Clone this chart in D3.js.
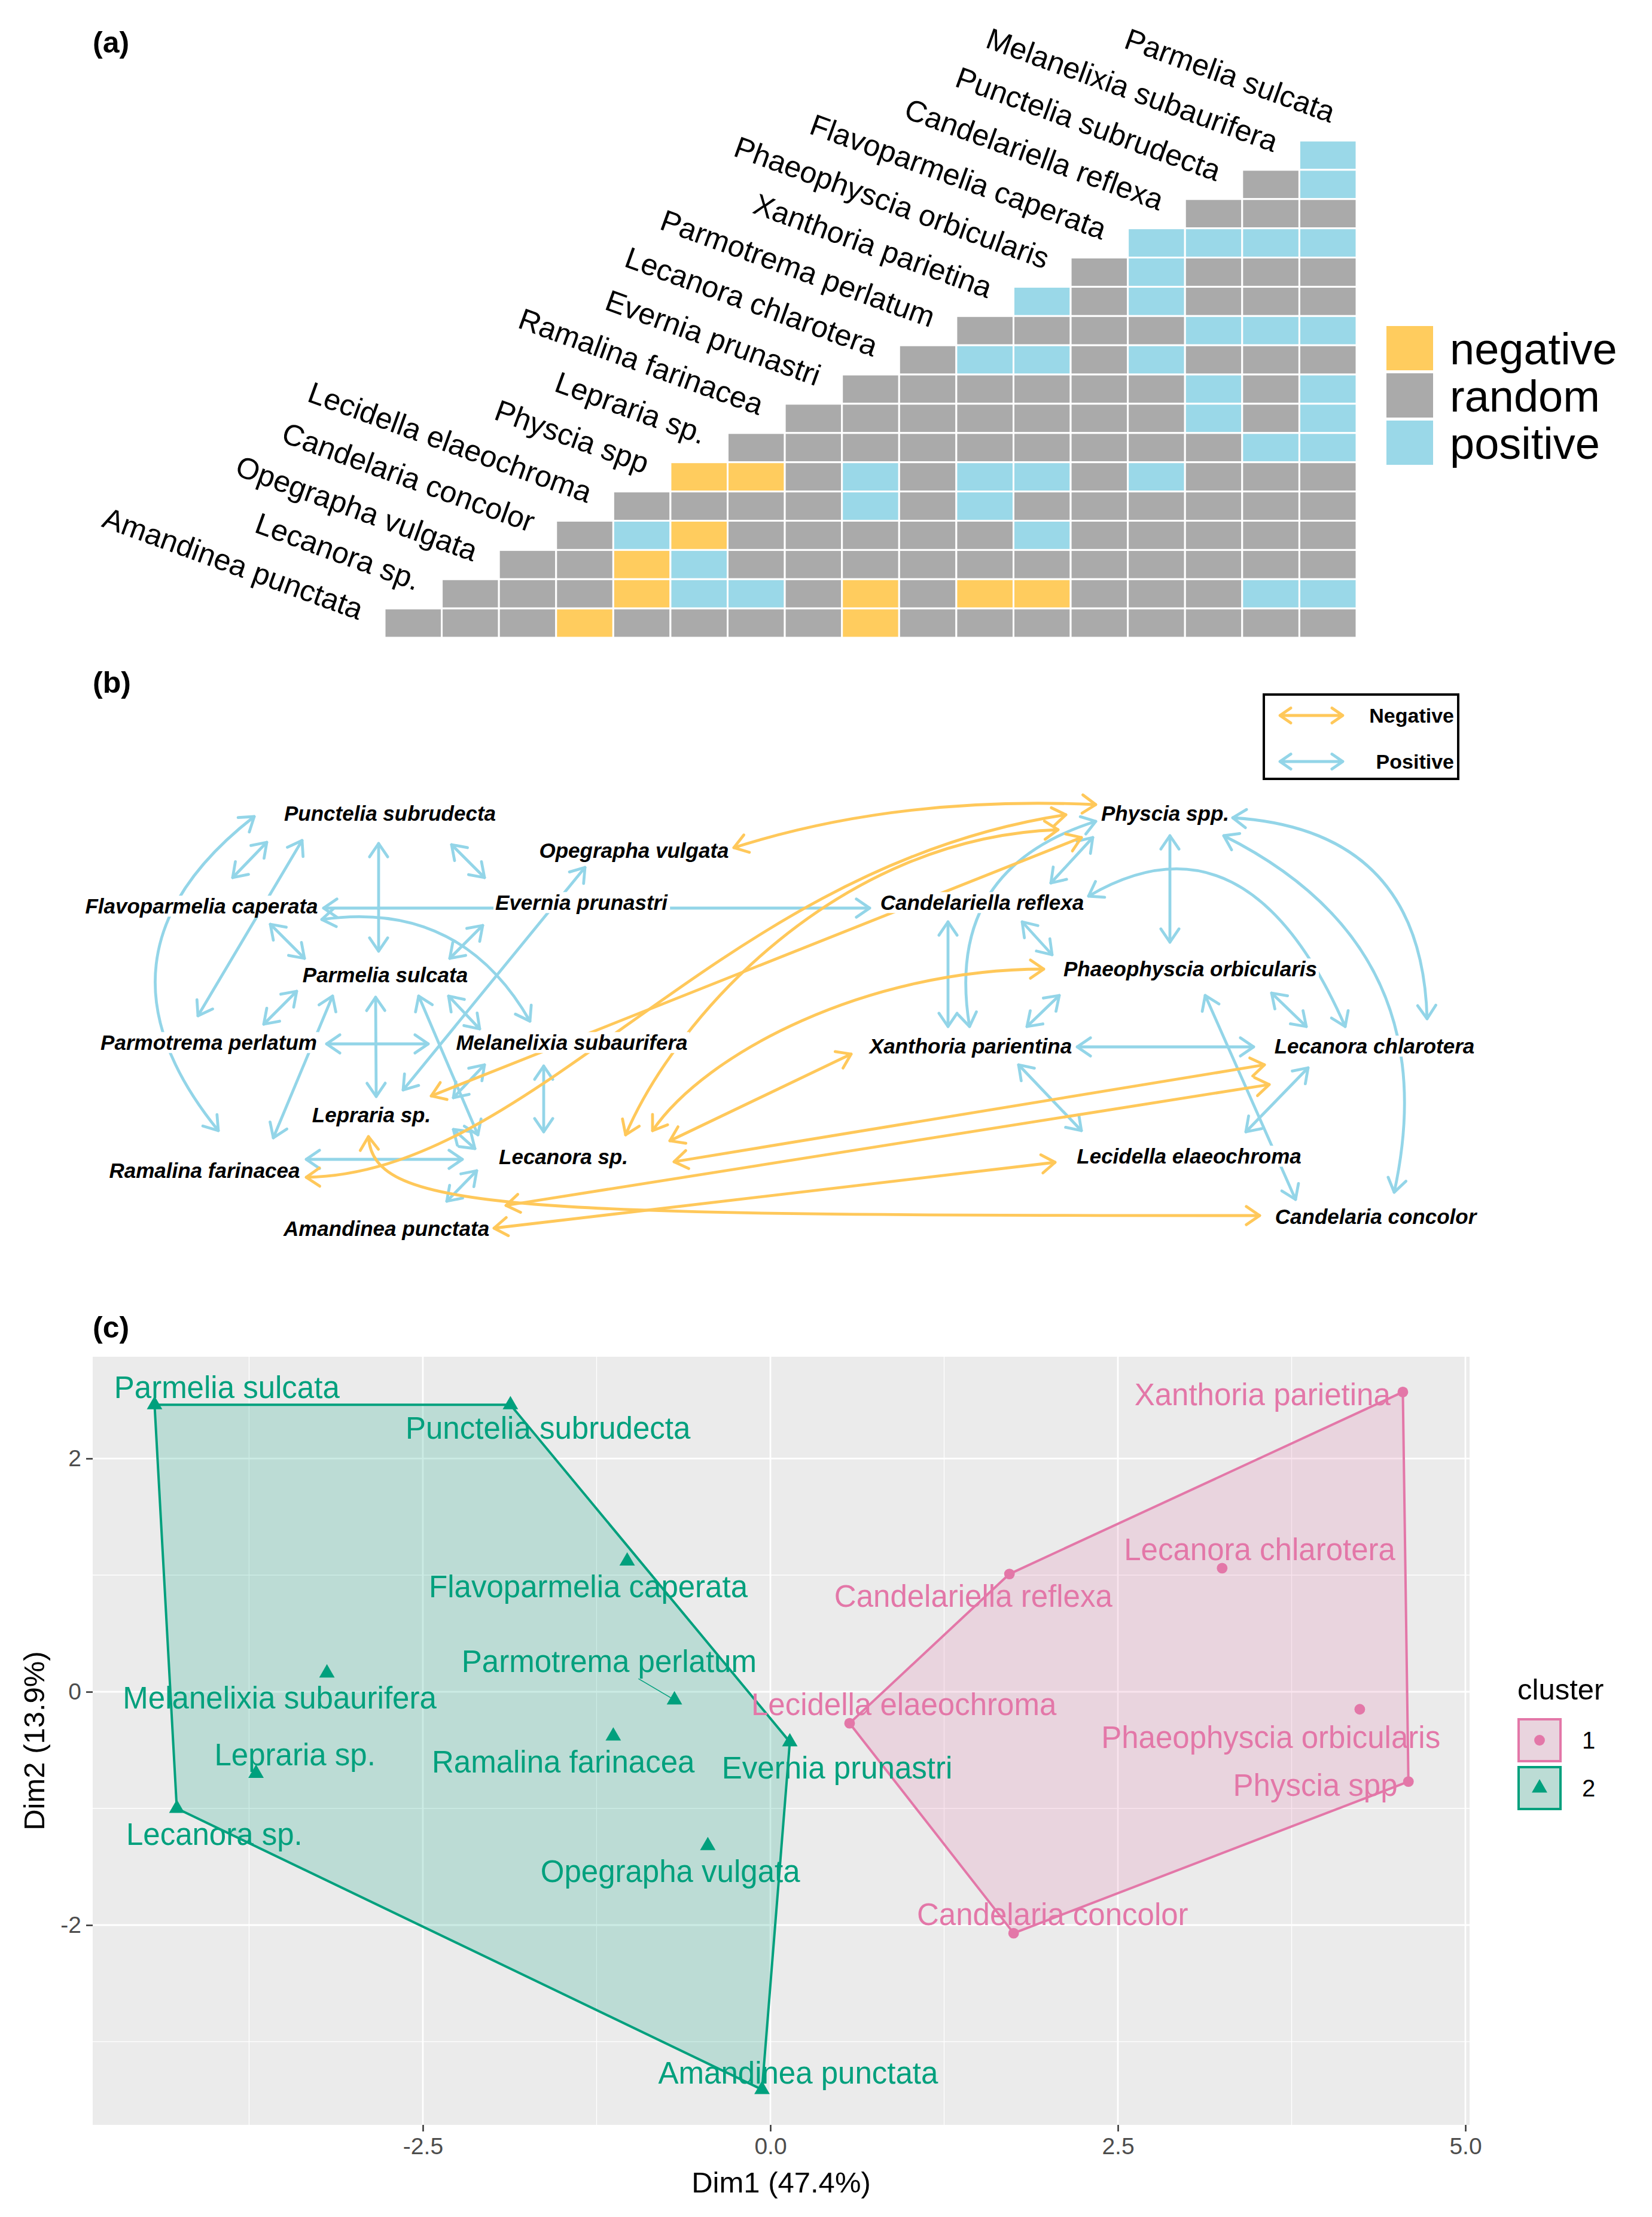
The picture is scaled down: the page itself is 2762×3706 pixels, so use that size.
<!DOCTYPE html>
<html>
<head>
<meta charset="utf-8">
<script src="https://cdn.jsdelivr.net/npm/d3@7"></script>
<style>
  body { margin: 0; background: #fff; }
  svg { display: block; font-family: "Liberation Sans", Arial, sans-serif; }
</style>
</head>
<body>
<svg id="fig" width="2762" height="3706"></svg>
<script>
// ---------- (a) co-occurrence matrix ----------
// species in the order they sit on the diagonal, top right to bottom left
const species = ["Parmelia sulcata", "Melanelixia subaurifera", "Punctelia subrudecta",
  "Candelariella reflexa", "Flavoparmelia caperata", "Phaeophyscia orbicularis",
  "Xanthoria parietina", "Parmotrema perlatum", "Lecanora chlarotera", "Evernia prunastri",
  "Ramalina farinacea", "Lepraria sp.", "Physcia spp", "Lecidella elaeochroma",
  "Candelaria concolor", "Opegrapha vulgata", "Lecanora sp.", "Amandinea punctata"];

// one string per row, left to right (n = negative, r = random, p = positive)
const pairRows = ["p", "rp", "rrr", "pppp", "rprrr", "prprrr", "rrrrppp", "rpprprrr",
  "rrrrrrprp", "rrrrrrrprp", "rrrrrrrrrpp", "nnrprpprprrr", "rrrrprprrrrrr",
  "rpnrrrrrprrrrr", "rrnprrrrrrrrrrr", "rrrnpprnrnnrrrpp", "rrrnrrrrnrrrrrrrr"];

const pairTypes = ["negative", "random", "positive"];
const pairColors = ["#FFCC5E", "#AAAAAA", "#9AD8E8"];

// ---------- (b) network ----------
// label centre of each species in the drawing
const nodes = [
  ["Punctelia subrudecta", 522, 210], ["Opegrapha vulgata", 930, 272],
  ["Flavoparmelia caperata", 207, 365], ["Evernia prunastri", 842, 359],
  ["Candelariella reflexa", 1512, 359], ["Physcia spp.", 1818, 210],
  ["Parmelia sulcata", 514, 480], ["Phaeophyscia orbicularis", 1860, 470],
  ["Parmotrema perlatum", 219, 593], ["Melanelixia subaurifera", 826, 593],
  ["Xanthoria parientina", 1493, 599], ["Lecanora chlarotera", 2168, 599],
  ["Lepraria sp.", 491, 714], ["Lecanora sp.", 812, 784],
  ["Ramalina farinacea", 212, 807], ["Lecidella elaeochroma", 1858, 783],
  ["Amandinea punctata", 516, 904], ["Candelaria concolor", 2170, 884]
];

// [from, to, port offset at from (dx, dy), port offset at to (dx, dy), bend]
// bend: none = straight, number = arc, [arc, shift], or two [along, across] cubic handles
const positiveLinks = [
  ["Punctelia subrudecta", "Ramalina farinacea", -227, 5, 23, -67, 0.51],
  ["Flavoparmelia caperata", "Punctelia subrudecta", 52, -48, -206, 48],
  ["Punctelia subrudecta", "Parmotrema perlatum", -147, 45, -18, -45],
  ["Punctelia subrudecta", "Parmelia sulcata", -19, 50, -11, -40],
  ["Punctelia subrudecta", "Evernia prunastri", 103, 52, -162, -42],
  ["Flavoparmelia caperata", "Candelariella reflexa", 204, 3, -188, 9],
  ["Flavoparmelia caperata", "Melanelixia subaurifera", 201, 22, -70, -36, -0.34],
  ["Flavoparmelia caperata", "Parmelia sulcata", 115, 30, -135, -28],
  ["Evernia prunastri", "Parmelia sulcata", -165, 38, 108, -28],
  ["Opegrapha vulgata", "Lepraria sp.", -82, 28, 53, -42],
  ["Parmelia sulcata", "Parmotrema perlatum", -148, 27, 92, -31],
  ["Parmelia sulcata", "Ramalina farinacea", -88, 35, 115, -55],
  ["Parmelia sulcata", "Lepraria sp.", -16, 37, 8, -31],
  ["Parmelia sulcata", "Lecanora sp.", 56, 35, -143, -37],
  ["Parmelia sulcata", "Melanelixia subaurifera", 106, 35, -154, -23],
  ["Parmotrema perlatum", "Melanelixia subaurifera", 197, 2, -240, 2],
  ["Melanelixia subaurifera", "Lepraria sp.", -146, 37, 137, -29],
  ["Lepraria sp.", "Lecanora sp.", 137, 24, -148, -14],
  ["Ramalina farinacea", "Lecanora sp.", 170, -19, -169, 4],
  ["Lecanora sp.", "Amandinea punctata", -145, 23, 101, -46],
  ["Melanelixia subaurifera", "Lecanora sp.", -47, 39, -33, -42],
  ["Candelariella reflexa", "Physcia spp.", 115, -33, -121, 40],
  ["Xanthoria parientina", "Physcia spp.", -2, -33, -116, 13, -0.434],
  ["Candelariella reflexa", "Xanthoria parientina", -57, 32, -38, -33],
  ["Candelariella reflexa", "Phaeophyscia orbicularis", 67, 32, -231, -24],
  ["Physcia spp.", "Phaeophyscia orbicularis", 8, 37, -34, -45],
  ["Candelariella reflexa", "Lecanora chlarotera", 178, -11, -49, -33, [-0.537, -0.155]],
  ["Physcia spp.", "Candelaria concolor", 98, 37, 31, -41, -0.389],
  ["Physcia spp.", "Lecanora chlarotera", 113, 7, 88, -46, -0.457],
  ["Phaeophyscia orbicularis", "Xanthoria parientina", -219, 44, 94, -33],
  ["Xanthoria parientina", "Lecanora chlarotera", 178, 1, -202, 1],
  ["Phaeophyscia orbicularis", "Lecanora chlarotera", 136, 40, -114, -33],
  ["Phaeophyscia orbicularis", "Candelaria concolor", 25, 44, -134, -29],
  ["Xanthoria parientina", "Lecidella elaeochroma", 80, 31, -180, -43],
  ["Lecanora chlarotera", "Lecidella elaeochroma", -111, 36, 95, -41]
];

const negativeLinks = [
  ["Opegrapha vulgata", "Physcia spp.", 167, -5, -116, -15, [-0.089, -0.038]],
  ["Lepraria sp.", "Physcia spp.", 100, -32, -140, 40],
  ["Ramalina farinacea", "Physcia spp.", 170, 11, -166, 2, [[0.25, 0.114], [0.60, -0.122]]],
  ["Lecanora sp.", "Physcia spp.", 104, -37, -179, 27, [[0.206, -0.127], [0.651, -0.228]]],
  ["Lecanora sp.", "Phaeophyscia orbicularis", 149, -44, -245, 0, [[0.186, -0.122], [0.615, -0.159]]],
  ["Lecanora sp.", "Xanthoria parientina", 178, -27, -200, 13],
  ["Lecanora sp.", "Lecanora chlarotera", 185, 8, -184, 31],
  ["Amandinea punctata", "Lecanora chlarotera", 200, -39, -176, 64],
  ["Amandinea punctata", "Lecidella elaeochroma", 180, -1, -224, 10],
  ["Lepraria sp.", "Candelaria concolor", -5, 36, -194, -2, [[0.013, 0.083], [0.164, 0.074]]]
];

const linkColors = { Negative: "#FFC85A", Positive: "#93D5E8" };

// ---------- (c) PCA with k-means clusters ----------
const pcaNames = ["Parmelia sulcata", "Punctelia subrudecta", "Flavoparmelia caperata",
  "Melanelixia subaurifera", "Parmotrema perlatum", "Ramalina farinacea", "Evernia prunastri",
  "Lepraria sp.", "Lecanora sp.", "Opegrapha vulgata", "Amandinea punctata",
  "Xanthoria parietina", "Lecanora chlarotera", "Candelariella reflexa",
  "Lecidella elaeochroma", "Phaeophyscia orbicularis", "Physcia spp", "Candelaria concolor"];
const dim1 = [-4.43, -1.87, -1.03, -3.19, -0.69, -1.13, 0.14, -3.70, -4.27, -0.45, -0.06,
  4.55, 3.25, 1.72, 0.57, 4.24, 4.59, 1.75];
const dim2 = [2.46, 2.46, 1.12, 0.16, -0.07, -0.38, -0.43, -0.70, -1.00, -1.32, -3.41,
  2.57, 1.06, 1.01, -0.27, -0.15, -0.77, -2.07];
const cluster = [2, 2, 2, 2, 2, 2, 2, 2, 2, 2, 2, 1, 1, 1, 1, 1, 1, 1];
// repelled label centres
const labelDim1 = [-3.91, -1.60, -1.31, -3.53, -1.16, -1.49, 0.48, -3.42, -4.00, -0.72, 0.20,
  3.54, 3.52, 1.46, 0.96, 3.60, 3.92, 2.03];
const labelDim2 = [2.61, 2.26, 0.90, -0.05, 0.26, -0.60, -0.65, -0.54, -1.22, -1.54, -3.27,
  2.55, 1.22, 0.82, -0.11, -0.39, -0.80, -1.91];
const segmentLabels = ["Parmotrema perlatum"];

const clusterIds = [1, 2];
const clusterColors = ["#E377A8", "#00A07D"];
const xMajor = [-2.5, 0, 2.5, 5], xMinor = [-3.75, -1.25, 1.25, 3.75];
const yMajor = [-2, 0, 2], yMinor = [-3, -1, 1];

const svg = d3.select("#fig");

// panel tags
svg.selectAll("text.tag")
  .data([["(a)", 88], ["(b)", 1158], ["(c)", 2236]])
  .join("text")
  .attr("x", 155).attr("y", d => d[1])
  .attr("font-size", 50).attr("font-weight", "bold")
  .text(d => d[0]);

// ================= (a) =================
const nRows = pairRows.length;
const ax = d3.scaleBand().domain(d3.range(nRows)).range([643, 2268]);
const ay = d3.scaleBand().domain(d3.range(nRows)).range([235, 1066]);
const colour = d3.scaleOrdinal().domain(["n", "r", "p"]).range(pairColors);
const colMid = c => ax(0) + (c + 0.5) * ax.step();
const rowMid = r => ay(0) + (r + 0.5) * ay.step();

const cells = pairRows.flatMap((row, r) =>
  row.split("").map((code, j) => ({ r, c: nRows - 1 - r + j, code })));

const ga = svg.append("g");
ga.selectAll("rect")
  .data(cells)
  .join("rect")
  .attr("x", d => ax(d.c)).attr("y", d => ay(d.r))
  .attr("width", ax.bandwidth()).attr("height", ay.bandwidth())
  .attr("fill", d => colour(d.code))
  .attr("stroke", "#fff").attr("stroke-width", 3);

ga.selectAll("text")
  .data(species)
  .join("text")
  .attr("transform", (d, k) => `translate(${colMid(nRows - 1 - k) + 4},${rowMid(k - 1) - 5}) rotate(20)`)
  .attr("text-anchor", "end")
  .attr("font-size", 50)
  .text(d => d);

const legA = svg.append("g").attr("transform", "translate(2318,545)");
legA.selectAll("rect")
  .data(pairTypes)
  .join("rect")
  .attr("x", 0).attr("y", (d, i) => i * 79)
  .attr("width", 78).attr("height", 74)
  .attr("fill", (d, i) => pairColors[i]);
legA.selectAll("text")
  .data(pairTypes)
  .join("text")
  .attr("x", 106).attr("y", (d, i) => i * 79 + 64)
  .attr("font-size", 74)
  .text(d => d);

// ================= (b) =================
const gb = svg.append("g").attr("transform", "translate(130,1150)");
const nodeById = new Map(nodes.map(n => [n[0], { x: n[1], y: n[2] }]));

function linkShape(e) {
  const a = nodeById.get(e[0]), b = nodeById.get(e[1]);
  const p0 = [a.x + e[2], a.y + e[3]], p3 = [b.x + e[4], b.y + e[5]];
  const dx = p3[0] - p0[0], dy = p3[1] - p0[1];
  const at = (u, v) => [p0[0] + u * dx - v * dy, p0[1] + u * dy + v * dx];
  const bend = e[6];
  let ctrl = [];
  if (typeof bend === "number") ctrl = [at(0.5, bend)];
  else if (Array.isArray(bend) && typeof bend[0] === "number") ctrl = [at(0.5 + bend[1], bend[0])];
  else if (Array.isArray(bend)) ctrl = bend.map(h => at(h[0], h[1]));
  const p = d3.path();
  p.moveTo(p0[0], p0[1]);
  if (ctrl.length === 0) p.lineTo(p3[0], p3[1]);
  else if (ctrl.length === 1) p.quadraticCurveTo(ctrl[0][0], ctrl[0][1], p3[0], p3[1]);
  else p.bezierCurveTo(ctrl[0][0], ctrl[0][1], ctrl[1][0], ctrl[1][1], p3[0], p3[1]);
  const first = ctrl.length ? ctrl[0] : p3, last = ctrl.length ? ctrl[ctrl.length - 1] : p0;
  return { d: p.toString(), heads: [[p0, first], [p3, last]] };
}

function chevron(tip, from, len = 27, ang = 0.6) {
  const t = Math.atan2(tip[1] - from[1], tip[0] - from[0]);
  const arm = s => [tip[0] - len * Math.cos(t + s * ang), tip[1] - len * Math.sin(t + s * ang)];
  const l = arm(1), r = arm(-1);
  return `M${l[0]},${l[1]}L${tip[0]},${tip[1]}L${r[0]},${r[1]}`;
}

function drawLinks(list, col) {
  const g = gb.append("g")
    .attr("fill", "none").attr("stroke", col)
    .attr("stroke-width", 4.8).attr("stroke-linejoin", "round").attr("stroke-linecap", "round");
  list.forEach(e => {
    const s = linkShape(e);
    g.append("path").attr("d", s.d);
    s.heads.forEach(h => g.append("path").attr("d", chevron(h[0], h[1])));
  });
}
drawLinks(positiveLinks, linkColors.Positive);
drawLinks(negativeLinks, linkColors.Negative);

const labels = gb.append("g")
  .selectAll("g")
  .data(nodes)
  .join("g")
  .attr("transform", d => `translate(${d[1]},${d[2]})`);
labels.append("text")
  .attr("text-anchor", "middle").attr("dy", "0.35em")
  .attr("font-size", 35).attr("font-weight", "bold").attr("font-style", "italic")
  .text(d => d[0]);
labels.each(function () {
  const bb = d3.select(this).select("text").node().getBBox();
  d3.select(this).insert("rect", "text")
    .attr("x", bb.x - 3).attr("y", bb.y + 2)
    .attr("width", bb.width + 6).attr("height", bb.height - 4)
    .attr("fill", "#fff");
});

const legB = gb.append("g").attr("transform", "translate(1983,11)");
legB.append("rect").attr("width", 325).attr("height", 141)
  .attr("fill", "#fff").attr("stroke", "#000").attr("stroke-width", 4);
Object.entries(linkColors).forEach(([name, col], i) => {
  const y = 35 + i * 77;
  legB.append("path")
    .attr("d", `M27,${y}L132,${y}` + chevron([27, y], [132, y], 22) + chevron([132, y], [27, y], 22))
    .attr("fill", "none").attr("stroke", col).attr("stroke-width", 4.8)
    .attr("stroke-linejoin", "round").attr("stroke-linecap", "round");
  legB.append("text")
    .attr("x", 318).attr("y", y).attr("dy", "0.35em")
    .attr("text-anchor", "end").attr("font-size", 34).attr("font-weight", "bold")
    .text(name);
});

// ================= (c) =================
const x = d3.scaleLinear().domain([-4.875, 5.03]).range([155, 2457]);
const y = d3.scaleLinear().domain([-3.713, 2.872]).range([3552, 2268]);
const ccol = d3.scaleOrdinal().domain(clusterIds).range(clusterColors);
const gc = svg.append("g");

gc.append("rect")
  .attr("x", x.range()[0]).attr("y", y.range()[1])
  .attr("width", x.range()[1] - x.range()[0]).attr("height", y.range()[0] - y.range()[1])
  .attr("fill", "#EBEBEB");
const grid = gc.append("g").attr("stroke", "#fff");
grid.selectAll("line.vx")
  .data(xMinor.map(v => [v, 1.3]).concat(xMajor.map(v => [v, 2.8])))
  .join("line")
  .attr("x1", d => x(d[0])).attr("x2", d => x(d[0]))
  .attr("y1", y.range()[0]).attr("y2", y.range()[1])
  .attr("stroke-width", d => d[1]);
grid.selectAll("line.hy")
  .data(yMinor.map(v => [v, 1.3]).concat(yMajor.map(v => [v, 2.8])))
  .join("line")
  .attr("y1", d => y(d[0])).attr("y2", d => y(d[0]))
  .attr("x1", x.range()[0]).attr("x2", x.range()[1])
  .attr("stroke-width", d => d[1]);

const xAxis = gc.append("g")
  .attr("transform", `translate(0,${y.range()[0]})`)
  .call(d3.axisBottom(x).tickValues(xMajor).tickSize(11).tickPadding(10)
    .tickFormat(v => v.toFixed(1)));
const yAxis = gc.append("g")
  .attr("transform", `translate(${x.range()[0]},0)`)
  .call(d3.axisLeft(y).tickValues(yMajor).tickSize(11).tickPadding(8)
    .tickFormat(v => String(v)));
[xAxis, yAxis].forEach(a => {
  a.select(".domain").remove();
  a.selectAll(".tick line").attr("stroke", "#333").attr("stroke-width", 2.5);
  a.selectAll(".tick text").attr("fill", "#4D4D4D").attr("font-size", 39)
    .attr("font-family", "Liberation Sans, Arial, sans-serif");
});

gc.append("text")
  .attr("x", (x.range()[0] + x.range()[1]) / 2).attr("y", 3665)
  .attr("text-anchor", "middle").attr("font-size", 49)
  .text("Dim1 (47.4%)");
gc.append("text")
  .attr("transform", `translate(74,${(y.range()[0] + y.range()[1]) / 2}) rotate(-90)`)
  .attr("text-anchor", "middle").attr("font-size", 49)
  .text("Dim2 (13.9%)");

const pts = pcaNames.map((name, i) => ({
  name, px: x(dim1[i]), py: y(dim2[i]), lx: x(labelDim1[i]), ly: y(labelDim2[i]), cl: cluster[i]
}));

clusterIds.forEach(id => {
  const hull = d3.polygonHull(pts.filter(p => p.cl === id).map(p => [p.px, p.py]));
  gc.append("path")
    .attr("d", "M" + hull.join("L") + "Z")
    .attr("fill", ccol(id)).attr("fill-opacity", 0.2)
    .attr("stroke", ccol(id)).attr("stroke-width", 4).attr("stroke-linejoin", "round");
});

const symbolFor = id => d3.symbol().type(id === 1 ? d3.symbolCircle : d3.symbolTriangle)
  .size(id === 1 ? 250 : 290)();

gc.selectAll("path.pt")
  .data(pts)
  .join("path")
  .attr("class", "pt")
  .attr("transform", d => `translate(${d.px},${d.py})`)
  .attr("d", d => symbolFor(d.cl))
  .attr("fill", d => ccol(d.cl));

const ptLabels = gc.selectAll("text.lab")
  .data(pts)
  .join("text")
  .attr("class", "lab")
  .attr("x", d => d.lx).attr("y", d => d.ly).attr("dy", "0.35em")
  .attr("text-anchor", "middle").attr("font-size", 51)
  .attr("fill", d => ccol(d.cl))
  .text(d => d.name);

ptLabels.filter(d => segmentLabels.includes(d.name)).each(function (d) {
  const bb = this.getBBox();
  const top = bb.y, bottom = bb.y + bb.height;
  const edgeY = d.py > bottom ? bottom : top;
  const t = (d.py - edgeY) / (d.py - d.ly);
  gc.append("line")
    .attr("x1", d.px).attr("y1", d.py)
    .attr("x2", d.px - t * (d.px - d.lx)).attr("y2", edgeY)
    .attr("stroke", ccol(d.cl)).attr("stroke-width", 1.5);
});

// legend
const legC = gc.append("g").attr("transform", "translate(2537,2825)");
legC.append("text").attr("y", 16).attr("font-size", 49).text("cluster");
clusterIds.forEach((id, i) => {
  const k = legC.append("g").attr("transform", `translate(0,${47 + i * 80})`);
  k.append("rect").attr("x", 2).attr("y", 2).attr("width", 70).attr("height", 70)
    .attr("fill", "#EBEBEB");
  k.append("rect").attr("x", 2).attr("y", 2).attr("width", 70).attr("height", 70)
    .attr("fill", ccol(id)).attr("fill-opacity", 0.2)
    .attr("stroke", ccol(id)).attr("stroke-width", 4);
  k.append("path").attr("transform", "translate(37,37)")
    .attr("d", symbolFor(id)).attr("fill", ccol(id));
  k.append("text").attr("x", 108).attr("y", 37).attr("dy", "0.35em")
    .attr("font-size", 40).text(id);
});
</script>
</body>
</html>
